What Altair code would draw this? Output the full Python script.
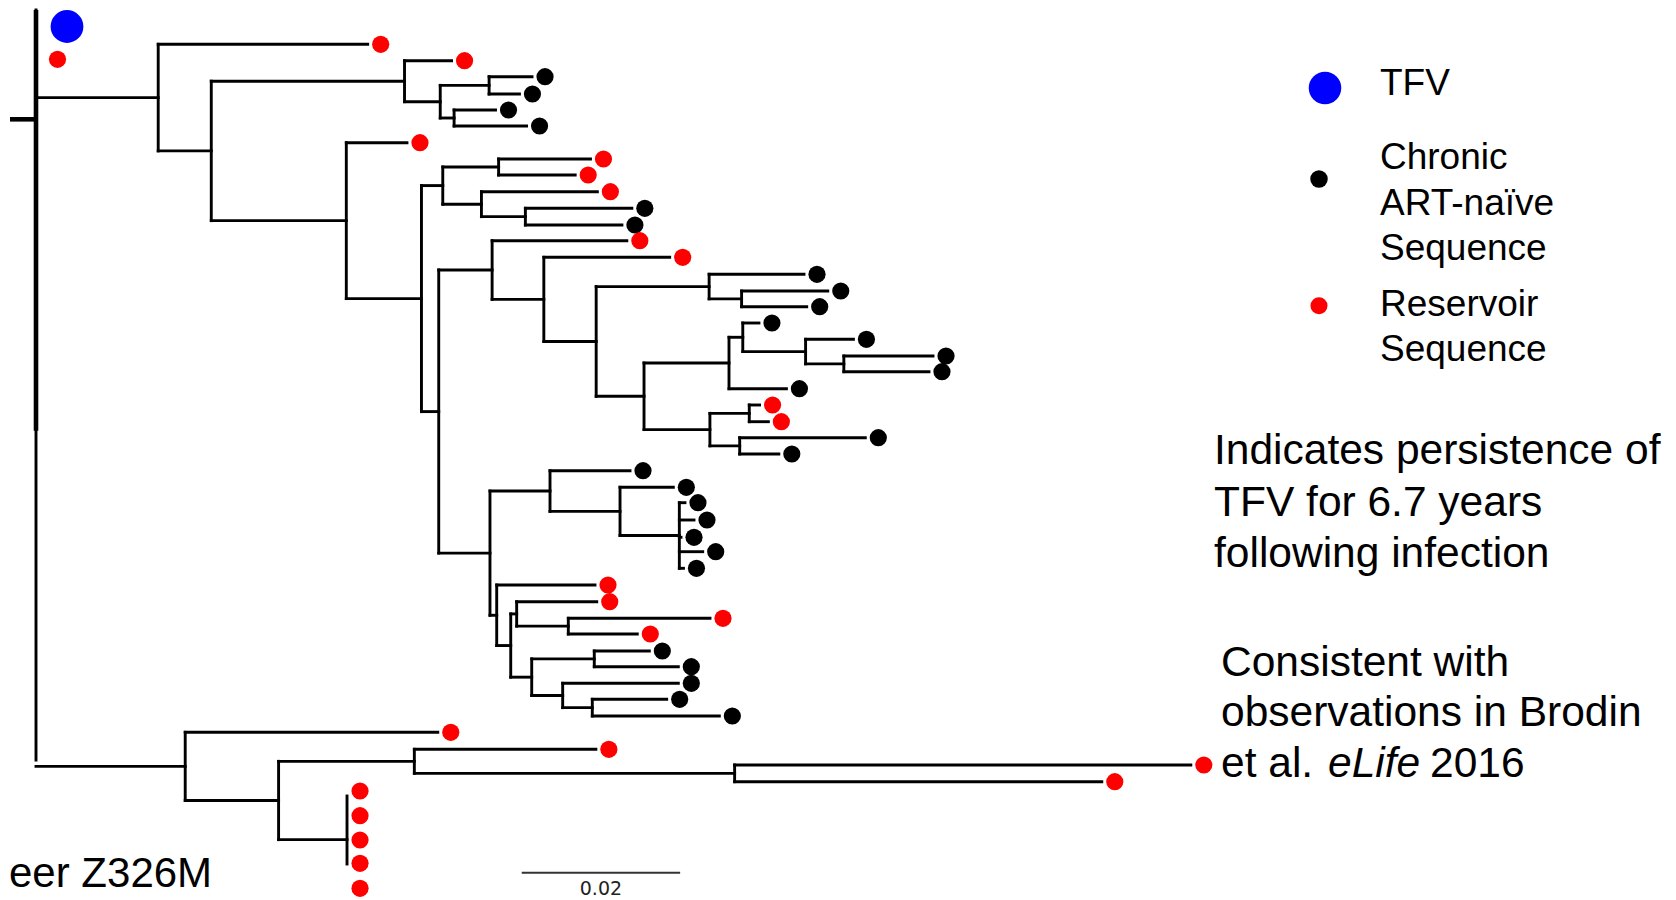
import altair as alt
import pandas as pd

# ---------------- data ----------------
# distances in 1e-3 substitutions/site from the root; rows = vertical tip positions
INTERNAL = [  # (node, parent, distance)
    ("A", "root", 15.43), ("B", "A", 22.13), ("C", "B", 46.53), ("D", "C", 51.04),
    ("E", "D", 57.21), ("F", "D", 52.79), ("G", "B", 39.18), ("H", "G", 48.67),
    ("I", "H", 51.36), ("J", "I", 58.41), ("K", "I", 56.24), ("L", "K", 61.79),
    ("M", "H", 50.85), ("N", "M", 57.59), ("O", "N", 64.12), ("P", "O", 70.73),
    ("Q", "P", 84.99), ("R", "Q", 89.09), ("S", "P", 76.77), ("T", "S", 87.50),
    ("U", "T", 89.24), ("V", "U", 97.17), ("W", "V", 102.0), ("X", "S", 85.09),
    ("Y", "X", 90.06), ("Z", "X", 88.85), ("AA", "M", 57.32), ("AB", "AA", 64.90),
    ("AC", "AB", 73.74), ("AD", "AC", 81.23), ("AE", "AA", 58.17), ("AF", "AE", 59.94),
    ("AG", "AF", 60.69), ("AH", "AG", 67.21), ("AI", "AF", 62.59), ("AJ", "AI", 70.49),
    ("AK", "AI", 66.50), ("AL", "AK", 70.24),
    ("BA", "root", 18.84), ("BB", "BA", 30.63), ("BC", "BB", 47.77), ("BD", "BC", 88.21),
    ("BE", "BB", 39.27),
]

TIPS = [  # (parent, distance, row, kind)
    ("root", 0.0, 26.5, "TFV"), ("root", 0.0, 59.3, "Reservoir"),
    ("A", 41.88, 44.3, "Reservoir"), ("C", 52.47, 60.7, "Reservoir"),
    ("E", 62.63, 76.7, "Chronic"), ("E", 61.04, 94.0, "Chronic"),
    ("F", 58.02, 110.0, "Chronic"), ("F", 61.94, 126.0, "Chronic"),
    ("G", 46.84, 142.7, "Reservoir"),
    ("J", 70.01, 159.0, "Reservoir"), ("J", 68.08, 175.0, "Reservoir"),
    ("K", 70.88, 191.7, "Reservoir"),
    ("L", 75.23, 208.3, "Chronic"), ("L", 73.98, 225.0, "Chronic"),
    ("N", 74.60, 240.7, "Reservoir"), ("O", 80.01, 257.3, "Reservoir"),
    ("Q", 96.97, 274.3, "Chronic"), ("R", 99.97, 291.0, "Chronic"), ("R", 97.31, 306.7, "Chronic"),
    ("U", 91.28, 323.0, "Chronic"), ("V", 103.21, 339.3, "Chronic"),
    ("W", 113.26, 356.0, "Chronic"), ("W", 112.75, 371.7, "Chronic"),
    ("T", 94.75, 388.7, "Chronic"),
    ("Y", 91.36, 405.0, "Reservoir"), ("Y", 92.47, 421.7, "Reservoir"),
    ("Z", 104.71, 437.7, "Chronic"), ("Z", 93.79, 454.0, "Chronic"),
    ("AB", 75.00, 470.7, "Chronic"), ("AC", 80.47, 487.3, "Chronic"),
    ("AD", 81.94, 502.7, "Chronic"), ("AD", 83.08, 520.0, "Chronic"), ("AD", 81.44, 537.3, "Chronic"),
    ("AD", 84.18, 551.7, "Chronic"), ("AD", 81.75, 568.3, "Chronic"),
    ("AE", 70.58, 585.0, "Reservoir"), ("AG", 70.80, 601.7, "Reservoir"),
    ("AH", 85.10, 618.3, "Reservoir"), ("AH", 75.92, 634.0, "Reservoir"),
    ("AJ", 77.44, 651.0, "Chronic"), ("AJ", 81.10, 666.7, "Chronic"),
    ("AK", 81.10, 683.3, "Chronic"), ("AL", 79.63, 699.3, "Chronic"), ("AL", 86.28, 716.0, "Chronic"),
    ("BA", 50.73, 732.3, "Reservoir"), ("BC", 70.69, 749.3, "Reservoir"),
    ("BD", 145.81, 765.0, "Reservoir"), ("BD", 134.57, 781.7, "Reservoir"),
    ("BE", 39.27, 791.0, "Reservoir"), ("BE", 39.27, 815.7, "Reservoir"),
    ("BE", 39.27, 840.0, "Reservoir"), ("BE", 39.27, 863.3, "Reservoir"),
    ("BE", 39.27, 888.3, "Reservoir"),
]

SPAN_OVERRIDE = {"root": (10.0, 760.0), "BE": (796.0, 864.0)}  # vertical extents as drawn
ROOT_TRUNK = (10.0, 430.7)        # heavier upper part of the root line (rows)
ROOT_STUB = (-3.28, 119.3)        # root stub start distance, row
SCALE_BAR = (61.33, 20.0, 872.7)  # start, length (20e-3 = 0.02), row
KINDS = ["TFV", "Chronic", "Reservoir"]
KIND_COLORS = ["#0000ff", "#000000", "#ff0000"]

LEGEND_LABELS = ["TFV", "Chronic", "ART-naïve", "Sequence", "Reservoir", "Sequence"]
NOTE_LINES = ["Indicates persistence of", "TFV for 6.7 years", "following infection"]
CITE_LINES = ["Consistent with", "observations in Brodin"]

# ---------------- build tree table ----------------
dist = {"root": 0.0}
parent = {}
children = {}
for nid, par, d in INTERNAL:
    dist[nid] = d
    parent[nid] = par
    children.setdefault(par, []).append(nid)
ypos = {}
tip_rows = []
for i, (par, d, row, kind) in enumerate(TIPS):
    tid = f"tip{i}"
    dist[tid] = d
    parent[tid] = par
    ypos[tid] = row
    children.setdefault(par, []).append(tid)
    tip_rows.append({"x": d, "y": row, "kind": kind, "rootlevel": d == 0.0})


def node_y(n):
    if n in ypos:
        return ypos[n]
    ys = [node_y(c) for c in children[n]]
    ypos[n] = (min(ys) + max(ys)) / 2
    return ypos[n]


node_y("root")

segs = []
for n, p in parent.items():
    if dist[n] > dist[p]:
        segs.append({"x": dist[p], "x2": dist[n], "y": ypos[n], "y2": ypos[n]})
for n, ch in children.items():
    ys = [ypos[c] for c in ch]
    lo, hi = SPAN_OVERRIDE.get(n, (min(ys), max(ys)))
    segs.append({"x": dist[n], "x2": dist[n], "y": lo, "y2": hi})
seg_df = pd.DataFrame(segs)
tip_df = pd.DataFrame(tip_rows)

heavy_df = pd.DataFrame([
    {"x": 0.0, "x2": 0.0, "y": ROOT_TRUNK[0], "y2": ROOT_TRUNK[1]},
    {"x": ROOT_STUB[0], "x2": 0.0, "y": ROOT_STUB[1], "y2": ROOT_STUB[1]},
])
bar_df = pd.DataFrame([{"x": SCALE_BAR[0], "x2": SCALE_BAR[0] + SCALE_BAR[1],
                        "y": SCALE_BAR[2], "y2": SCALE_BAR[2],
                        "xm": SCALE_BAR[0] + SCALE_BAR[1] / 2,
                        "label": f"{SCALE_BAR[1] / 1000:.2f}"}])

# ---------------- scales ----------------
W, H = 1660, 892
PX_PER_UNIT = 7.92
X0 = -28 / PX_PER_UNIT
XS = alt.Scale(domain=[X0, X0 + W / PX_PER_UNIT], nice=False, zero=False)
YS = alt.Scale(domain=[8, 8 + H], reverse=True, nice=False, zero=False)
SANS = "Liberation Sans"


def enc_seg():
    return dict(x=alt.X("x:Q", scale=XS, axis=None), x2="x2:Q",
                y=alt.Y("y:Q", scale=YS, axis=None), y2="y2:Q")


branches = alt.Chart(seg_df).mark_rule(color="black", strokeWidth=2.9, strokeCap="square").encode(**enc_seg())
heavy = alt.Chart(heavy_df).mark_rule(color="black", strokeWidth=4.6, strokeCap="butt").encode(**enc_seg())
bar = alt.Chart(bar_df).mark_rule(color="#333333", strokeWidth=2).encode(**enc_seg())
bar_label = alt.Chart(bar_df).mark_text(font="DejaVu Sans", fontSize=19, color="#222222",
                                         align="center", baseline="alphabetic").encode(
    x=alt.X("xm:Q", scale=XS, axis=None), y=alt.value(895 - 8), text="label:N")

color = alt.Color("kind:N", scale=alt.Scale(domain=KINDS, range=KIND_COLORS), legend=None)
pos = dict(x=alt.X("x:Q", scale=XS, axis=None), y=alt.Y("y:Q", scale=YS, axis=None), color=color)

dots = alt.Chart(tip_df).transform_filter("datum.kind != 'TFV' && !datum.rootlevel").mark_circle(
    size=295, opacity=1, xOffset=13).encode(**pos)
root_dots = alt.Chart(tip_df).transform_filter("datum.kind != 'TFV' && datum.rootlevel").mark_circle(
    size=295, opacity=1, xOffset=21.5).encode(**pos)
tfv_dot = alt.Chart(tip_df).transform_filter("datum.kind == 'TFV'").mark_circle(
    size=1075, opacity=1, xOffset=31).encode(**pos)


def label(txt, px, py, size, style="normal", align="left", font=SANS):
    return alt.Chart(pd.DataFrame({"t": [txt]})).mark_text(
        align=align, baseline="alphabetic", fontSize=size, fontStyle=style, font=font,
        color="black").encode(text="t:N", x=alt.value(px - 8), y=alt.value(py - 8))


def legend_dot(kind, px, py, size):
    return alt.Chart(pd.DataFrame({"kind": [kind]})).mark_circle(size=size, opacity=1).encode(
        x=alt.value(px - 8), y=alt.value(py - 8),
        color=alt.Color("kind:N", scale=alt.Scale(domain=KINDS, range=KIND_COLORS), legend=None))


layers = [branches, heavy, bar, bar_label, dots, root_dots, tfv_dot,
          legend_dot("TFV", 1325, 88, 1058), legend_dot("Chronic", 1319, 179, 305),
          legend_dot("Reservoir", 1319, 305.7, 290)]

for txt, base in zip(LEGEND_LABELS, [95.0, 169.4, 214.6, 259.8, 316.4, 361.4]):
    layers.append(label(txt, 1380, base, 37))
for txt, base in zip(NOTE_LINES, [464.0, 515.5, 567.0]):
    layers.append(label(txt, 1214, base, 42.5))
for txt, base in zip(CITE_LINES, [675.5, 726.0]):
    layers.append(label(txt, 1221, base, 42.5))
layers.append(label("et al.", 1221, 777, 42.5))
layers.append(label("eLife", 1328, 777, 42.5, style="italic"))
layers.append(label("2016", 1430, 777, 42.5))
layers.append(label("eer Z326M", 9, 887, 42))

chart = alt.layer(*layers).properties(
    width=W, height=H, padding=0, autosize=alt.AutoSizeParams(type="none"),
    background="white",
).configure_view(stroke=None)

chart.save("out.html", embed_options={"renderer": "svg", "actions": False})
